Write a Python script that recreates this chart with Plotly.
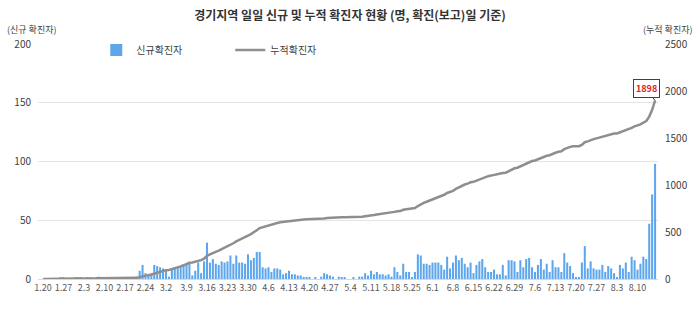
import numpy as np
import pandas as pd
import plotly.graph_objects as go

# Daily new confirmed cases in Gyeonggi, by report date, from 2020-01-20
start_date = "2020-01-20"
daily_new = [
    0, 0, 0, 0, 0, 0, 1, 1, 0, 0, 0, 1, 1, 1, 0, 1, 1, 0, 0, 2, 0,
    0, 0, 0, 0, 0, 0, 0, 0, 0, 0, 1, 2,
    7, 12, 5, 4, 4, 12, 11, 10, 9, 8,
    2, 8, 9, 10, 11, 12, 13,
    13, 3, 7, 14, 5, 15, 31,
    14, 17, 13, 12, 15, 14, 15,
    20, 13, 20, 14, 14, 13, 21,
    16, 18, 23, 23, 10, 9, 10,
    6, 9, 9, 8, 4, 5, 7,
    4, 4, 3, 3, 1, 1, 1,
    0, 1, 0, 2, 5, 4, 3,
    2, 0, 2, 1, 1, 0, 0,
    1, 0, 2, 2, 5, 3, 7,
    4, 6, 4, 4, 3, 4, 2,
    10, 6, 3, 13, 6, 6, 1,
    6, 21, 20, 13, 13, 12, 14,
    14, 14, 12, 8, 19, 9, 14,
    20, 16, 18, 13, 10, 14, 5,
    12, 15, 17, 10, 6, 6, 8,
    4, 4, 12, 3, 16, 16, 15,
    6, 16, 10, 17, 18, 10, 6,
    12, 17, 8, 13, 6, 16, 10,
    10, 6, 22, 14, 11, 5, 1,
    1, 14, 28, 9, 15, 9, 8,
    8, 12, 6, 11, 9, 5, 1,
    12, 9, 14, 6, 19, 16, 8,
    13, 19, 17, 47, 72, 98,
]

dates = pd.date_range(start_date, periods=len(daily_new), freq="D")
day_labels = [f"{d.month}.{d.day}" for d in dates]
tick_labels = day_labels[::7]
cumulative = np.cumsum(daily_new)
last_idx = len(daily_new) - 1

title_text = "경기지역 일일 신규 및 누적 확진자 현황 (명, 확진(보고)일 기준)"
left_axis_label = "(신규 확진자)"
right_axis_label = "(누적 확진자)"

FONT = "Noto Sans CJK KR"

fig = go.Figure()
fig.add_bar(
    x=day_labels, y=daily_new, name="신규확진자",
    marker=dict(color="#5EA6EC", line=dict(width=0)),
)
fig.add_scatter(
    x=day_labels, y=cumulative, yaxis="y2", mode="lines", name="누적확진자",
    line=dict(color="#8E8E8E", width=2.5),
)

# callout on the final cumulative total (x given as category index)
fig.add_annotation(
    x=last_idx, y=int(cumulative[-1]), xref="x", yref="y2",
    text=f"<b>{int(cumulative[-1])}</b>",
    font=dict(family=FONT, size=9, color="#E0201B"),
    bgcolor="white", bordercolor="#404040", borderwidth=1, borderpad=2,
    showarrow=True, arrowhead=0, arrowwidth=1, arrowcolor="#404040",
    ax=-9, ay=-12,
)
fig.add_annotation(
    x=-0.053, y=1.06, xref="paper", yref="paper", xanchor="left", yanchor="middle",
    text=left_axis_label, showarrow=False,
    font=dict(family=FONT, size=9, color="#404040"),
)
fig.add_annotation(
    x=1.0595, y=1.06, xref="paper", yref="paper", xanchor="right", yanchor="middle",
    text=right_axis_label, showarrow=False,
    font=dict(family=FONT, size=9, color="#404040"),
)

fig.update_layout(
    width=700, height=323,
    margin=dict(l=38, r=40, t=44, b=44),
    paper_bgcolor="white", plot_bgcolor="white",
    font=dict(family=FONT, color="#404040"),
    title=dict(
        text=f"<b>{title_text}</b>", x=0.5, xanchor="center",
        y=1 - 16 / 323, yanchor="middle",
        font=dict(family=FONT, size=12, color="#333333"),
    ),
    bargap=0.3,
    showlegend=True,
    legend=dict(
        orientation="h", x=0.094, y=0.975, xanchor="left", yanchor="middle",
        entrywidth=89, entrywidthmode="pixels",
        font=dict(family=FONT, size=10, color="#404040"),
        bgcolor="rgba(0,0,0,0)",
    ),
    xaxis=dict(
        type="category", range=[-1.7, 210.0],
        tickmode="array", tickvals=tick_labels, ticktext=tick_labels,
        tickangle=0, tickfont=dict(family=FONT, size=9, color="#595959"),
        showgrid=False, showline=True, linecolor="#D9D9D9", linewidth=1,
        ticks="",
    ),
    yaxis=dict(
        range=[0, 200], dtick=50, showgrid=True, gridcolor="#E4E4E4",
        zeroline=False, tickfont=dict(family=FONT, size=10, color="#404040"),
        ticklabelstandoff=6,
    ),
    yaxis2=dict(
        overlaying="y", side="right", range=[0, 2500], dtick=500,
        showgrid=False, zeroline=False,
        tickfont=dict(family=FONT, size=10, color="#404040"),
        ticklabelstandoff=6,
    ),
)

fig.write_html("out.html")
